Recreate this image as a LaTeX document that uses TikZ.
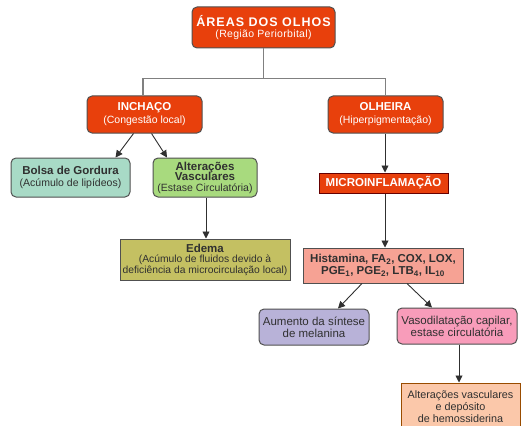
\documentclass[tikz,border=0pt]{standalone}
\usepackage{fontspec}
\setmainfont{Liberation Sans}
\usetikzlibrary{arrows.meta}

\definecolor{laranja}{HTML}{E8400C}
\definecolor{verdeagua}{HTML}{A8DAC6}
\definecolor{verdeclaro}{HTML}{A8DA7E}
\definecolor{oliva}{HTML}{C4C062}
\definecolor{salmao}{HTML}{F6A294}
\definecolor{lilas}{HTML}{B8B2D8}
\definecolor{rosa}{HTML}{F89CBA}
\definecolor{pessego}{HTML}{FBC8AA}
\definecolor{borda}{HTML}{505050}
\definecolor{texto}{HTML}{303030}

\begin{document}
\begin{tikzpicture}[x=1pt, y=-1pt,
        caixa/.style={draw=borda, line width=1pt, align=center, inner sep=0pt, text=texto},
        redonda/.style={caixa, rounded corners=5pt},
        principal/.style={redonda, fill=laranja, text=white},
        seta/.style={draw=texto, line width=0.9pt, -{Triangle[width=7pt, length=7pt]}},
        ramo/.style={draw=gray, line width=1.2pt}]
    \useasboundingbox (0, 0) rectangle (521, 425);

    \node[principal, minimum width=143pt, minimum height=41pt] (areas) at (263.5, 27.5)
        {{\bfseries\fontsize{12.5}{13}\selectfont\addfontfeature{LetterSpace=8}ÁREAS DOS OLHOS}\\[-1pt]
         {\fontsize{10.5}{11}\selectfont\addfontfeature{LetterSpace=3}(Região Periorbital)}};

    \node[principal, minimum width=115pt, minimum height=37pt] (inchaco) at (144.5, 114.5)
        {{\bfseries\fontsize{11.5}{12}\selectfont INCHAÇO}\\[1pt]
         {\fontsize{10.5}{11}\selectfont (Congestão local)}};
    \node[principal, minimum width=115pt, minimum height=37pt] (olheira) at (385.5, 114.5)
        {{\bfseries\fontsize{11.5}{12}\selectfont OLHEIRA}\\[1pt]
         {\fontsize{10.5}{11}\selectfont (Hiperpigmentação)}};

    \node[redonda, fill=verdeagua, minimum width=119pt, minimum height=39pt] (bolsa) at (70.5, 177.5)
        {{\bfseries\fontsize{11.5}{12}\selectfont Bolsa de Gordura}\\
         {\fontsize{10.5}{11}\selectfont (Acúmulo de lipídeos)}};
    \node[redonda, fill=verdeclaro, minimum width=104pt, minimum height=39pt] (vasculares) at (205, 177.5)
        {{\bfseries\fontsize{11.5}{11.5}\selectfont Alterações}\\[-1.5pt]
         {\bfseries\fontsize{11.5}{11.5}\selectfont Vasculares}\\[-1.5pt]
         {\fontsize{10.5}{11}\selectfont (Estase Circulatória)}};

    \node[caixa, fill=laranja, draw=red!40!black, text=white, minimum width=129pt, minimum height=20pt] (micro) at (383.5, 183)
        {\bfseries\fontsize{11.5}{12}\selectfont MICROINFLAMAÇÃO};

    \node[caixa, fill=oliva, minimum width=170pt, minimum height=41pt] (edema) at (205, 259.5)
        {{\bfseries\fontsize{11.5}{11.5}\selectfont Edema}\\[-1.5pt]
         {\fontsize{10.3}{10.5}\selectfont (Acúmulo de fluidos devido à}\\[-1.5pt]
         {\fontsize{10.3}{10.5}\selectfont deficiência da microcirculação local)}};

    \node[caixa, fill=salmao, minimum width=160pt, minimum height=35pt] (mediadores) at (383, 265.5)
        {\bfseries\fontsize{11.5}{13}\selectfont Histamina, FA\textsubscript{2}, COX, LOX,\\
         \bfseries\fontsize{11.5}{13}\selectfont PGE\textsubscript{1}, PGE\textsubscript{2}, LTB\textsubscript{4}, IL\textsubscript{10}};

    \node[redonda, fill=lilas, minimum width=110pt, minimum height=36pt] (melanina) at (314, 327)
        {\fontsize{11.5}{12.5}\selectfont Aumento da síntese\\
         \fontsize{11.5}{12.5}\selectfont de melanina};
    \node[redonda, fill=rosa, minimum width=120pt, minimum height=36pt] (vasodilatacao) at (457, 326)
        {\fontsize{11.5}{12.5}\selectfont Vasodilatação capilar,\\
         \fontsize{11.5}{12.5}\selectfont estase circulatória};

    \node[caixa, fill=pessego, draw=orange!60!black, minimum width=119pt, minimum height=48pt] (deposito) at (460.5, 407)
        {\fontsize{10.8}{11.5}\selectfont Alterações vasculares\\
         \fontsize{10.8}{11.5}\selectfont e depósito\\
         \fontsize{10.8}{11.5}\selectfont de hemossiderina};

    % ramos do topo
    \draw[ramo] (areas.south) -- ++(0, 30) -| ([xshift=-1.5pt]inchaco.north);
    \draw[ramo] (areas.south) ++(0, 30) -| (olheira.north);

    % setas
    \draw[seta] ([xshift=-11pt]inchaco.south) -- ([xshift=45pt]bolsa.north);
    \draw[seta] ([xshift=7pt]inchaco.south) -- ([xshift=-38pt]vasculares.north);
    \draw[seta] ([xshift=1pt]vasculares.south) -- ([xshift=1pt]edema.north);
    \draw[seta] ([xshift=-0.5pt]olheira.south) -- ([xshift=1.5pt]micro.north);
    \draw[seta] ([xshift=1.5pt]micro.south) -- ([xshift=2pt]mediadores.north);
    \draw[seta] ([xshift=-21pt]mediadores.south) -- ([xshift=24pt]melanina.north);
    \draw[seta] ([xshift=24pt]mediadores.south) -- ([xshift=-25pt]vasodilatacao.north);
    \draw[seta] ([xshift=2pt]vasodilatacao.south) -- ([xshift=-1.5pt]deposito.north);
\end{tikzpicture}
\end{document}
